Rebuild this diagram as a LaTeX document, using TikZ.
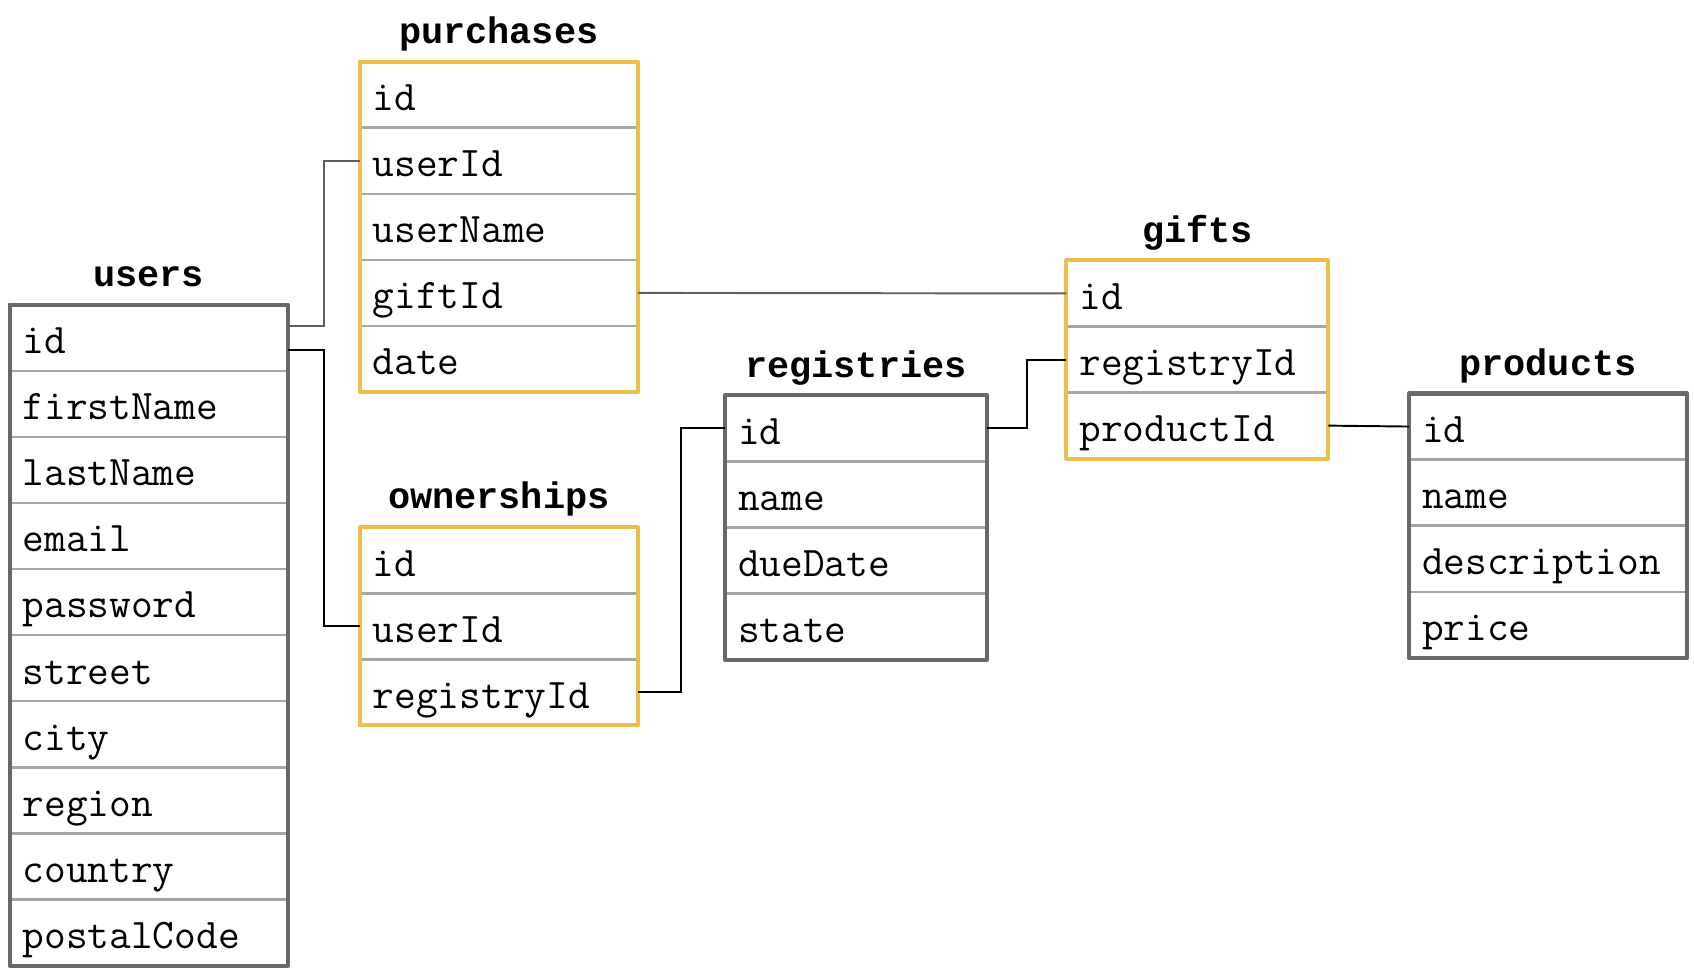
\documentclass[tikz,border=0pt]{standalone}
\usepackage{fontspec}
\newfontfamily\headfont{Liberation Mono}
\usetikzlibrary{positioning}

\definecolor{tabgold}{HTML}{EAC04A}
\definecolor{tabgray}{HTML}{686868}
\definecolor{rowline}{HTML}{A6A6A6}
\definecolor{linkgray}{HTML}{5E5E5E}

\tikzset{
  field/.style={draw=rowline,line width=1.4pt,outer sep=0pt,minimum height=1.322cm,
    inner xsep=0.26cm,text width=#1,align=left,text height=1.8em,text depth=0em,
    font=\ttfamily\fontsize{24pt}{28pt}\selectfont},
  field/.default=5.04cm,
  title/.style={inner sep=0pt,text height=0.6em,text depth=0.2em,
    font=\headfont\bfseries\fontsize{21pt}{25pt}\selectfont},
  frame/.style={draw=#1,line width=2.3pt,line join=round},
  link/.style={draw=black,line width=1.1pt},
  graylink/.style={draw=linkgray,line width=1.1pt},
}

\begin{document}
\begin{tikzpicture}[x=0.02cm,y=-0.02cm]
\useasboundingbox (0,0) rectangle (1694,974);

% users
\node[field,anchor=north west] (users-id) at (9.7,304.7) {id};
\node[field,below=0pt of users-id] (users-firstName) {firstName};
\node[field,below=0pt of users-firstName] (users-lastName) {lastName};
\node[field,below=0pt of users-lastName] (users-email) {email};
\node[field,below=0pt of users-email] (users-password) {password};
\node[field,below=0pt of users-password] (users-street) {street};
\node[field,below=0pt of users-street] (users-city) {city};
\node[field,below=0pt of users-city] (users-region) {region};
\node[field,below=0pt of users-region] (users-country) {country};
\node[field,below=0pt of users-country] (users-postalCode) {postalCode};
\draw[frame=tabgray] (users-id.north west) rectangle (users-postalCode.south east);
\node[title,above=0.29cm of users-id] (users) {users};

% purchases
\node[field,anchor=north west] (purchases-id) at (359.8,61.6) {id};
\node[field,below=0pt of purchases-id] (purchases-userId) {userId};
\node[field,below=0pt of purchases-userId] (purchases-userName) {userName};
\node[field,below=0pt of purchases-userName] (purchases-giftId) {giftId};
\node[field,below=0pt of purchases-giftId] (purchases-date) {date};
\draw[frame=tabgold] (purchases-id.north west) rectangle (purchases-date.south east);
\node[title,above=0.29cm of purchases-id] (purchases) {purchases};

% ownerships
\node[field,anchor=north west] (ownerships-id) at (359.8,527.2) {id};
\node[field,below=0pt of ownerships-id] (ownerships-userId) {userId};
\node[field,below=0pt of ownerships-userId] (ownerships-registryId) {registryId};
\draw[frame=tabgold] (ownerships-id.north west) rectangle (ownerships-registryId.south east);
\node[title,above=0.29cm of ownerships-id] (ownerships) {ownerships};

% registries
\node[field=4.72cm,anchor=north west] (registries-id) at (725,395.4) {id};
\node[field=4.72cm,below=0pt of registries-id] (registries-name) {name};
\node[field=4.72cm,below=0pt of registries-name] (registries-dueDate) {dueDate};
\node[field=4.72cm,below=0pt of registries-dueDate] (registries-state) {state};
\draw[frame=tabgray] (registries-id.north west) rectangle (registries-state.south east);
\node[title,above=0.29cm of registries-id] (registries) {registries};

% gifts
\node[field=4.72cm,anchor=north west] (gifts-id) at (1066.4,260.4) {id};
\node[field=4.72cm,below=0pt of gifts-id] (gifts-registryId) {registryId};
\node[field=4.72cm,below=0pt of gifts-registryId] (gifts-productId) {productId};
\draw[frame=tabgold] (gifts-id.north west) rectangle (gifts-productId.south east);
\node[title,above=0.29cm of gifts-id] (gifts) {gifts};

% products
\node[field,anchor=north west] (products-id) at (1409,393.5) {id};
\node[field,below=0pt of products-id] (products-name) {name};
\node[field,below=0pt of products-name] (products-description) {description};
\node[field,below=0pt of products-description] (products-price) {price};
\draw[frame=tabgray] (products-id.north west) rectangle (products-price.south east);
\node[title,above=0.29cm of products-id] (products) {products};

% links
\draw[graylink] ([yshift=0.24cm]users-id.east) -- ++(36.6,0) |- (purchases-userId.west);
\draw[link] ([yshift=-0.24cm]users-id.east) -- ++(36.6,0) |- (ownerships-userId.west);
\draw[graylink] (purchases-giftId.east) -- (gifts-id.west);
\draw[link] (ownerships-registryId.east) -- ++(43.3,0) |- (registries-id.west);
\draw[link] (registries-id.east) -- ++(39.6,0) |- (gifts-registryId.west);
\draw[link] (gifts-productId.east) -- (products-id.west);

\end{tikzpicture}
\end{document}
